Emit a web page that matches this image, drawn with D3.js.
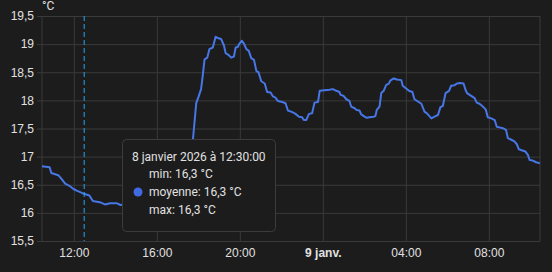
<!DOCTYPE html>
<html>
<head>
<meta charset="utf-8">
<script src="https://cdn.jsdelivr.net/npm/d3@7"></script>
<style>
  html, body { margin: 0; padding: 0; background: #1c1c1c; }
  svg { display: block; font-family: Roboto, "Noto Sans", sans-serif; }
</style>
</head>
<body>
<svg id="chart" width="552" height="272"></svg>
<script>
// temperature readings, 8 -> 9 Jan 2026
const times = [
  "2026-01-08 10:28","2026-01-08 10:50","2026-01-08 10:55","2026-01-08 11:15","2026-01-08 11:25",
  "2026-01-08 11:35","2026-01-08 11:50","2026-01-08 12:00","2026-01-08 12:10","2026-01-08 12:25",
  "2026-01-08 12:45","2026-01-08 12:55","2026-01-08 13:15","2026-01-08 13:30","2026-01-08 13:45",
  "2026-01-08 14:05","2026-01-08 14:15","2026-01-08 14:30","2026-01-08 15:00","2026-01-08 15:30",
  "2026-01-08 16:00","2026-01-08 16:30","2026-01-08 17:00","2026-01-08 17:20","2026-01-08 17:30",
  "2026-01-08 17:40","2026-01-08 17:45","2026-01-08 17:54","2026-01-08 18:01","2026-01-08 18:08",
  "2026-01-08 18:13","2026-01-08 18:18","2026-01-08 18:26","2026-01-08 18:32","2026-01-08 18:42",
  "2026-01-08 18:50","2026-01-08 18:56","2026-01-08 19:06","2026-01-08 19:14","2026-01-08 19:19",
  "2026-01-08 19:27","2026-01-08 19:35","2026-01-08 19:43","2026-01-08 19:48","2026-01-08 19:54",
  "2026-01-08 19:59","2026-01-08 20:06","2026-01-08 20:12","2026-01-08 20:19","2026-01-08 20:26",
  "2026-01-08 20:33","2026-01-08 20:41","2026-01-08 20:48","2026-01-08 20:54","2026-01-08 21:02",
  "2026-01-08 21:12","2026-01-08 21:19","2026-01-08 21:29","2026-01-08 21:36","2026-01-08 21:43",
  "2026-01-08 21:50","2026-01-08 22:03","2026-01-08 22:12","2026-01-08 22:19","2026-01-08 22:32",
  "2026-01-08 22:41","2026-01-08 22:51","2026-01-08 23:00","2026-01-08 23:05","2026-01-08 23:12",
  "2026-01-08 23:20","2026-01-08 23:29","2026-01-08 23:36","2026-01-08 23:46","2026-01-08 23:51",
  "2026-01-09 00:05","2026-01-09 00:19","2026-01-09 00:29","2026-01-09 00:39","2026-01-09 00:48",
  "2026-01-09 00:51","2026-01-09 01:00","2026-01-09 01:08","2026-01-09 01:17","2026-01-09 01:22",
  "2026-01-09 01:32","2026-01-09 01:38","2026-01-09 01:46","2026-01-09 01:51","2026-01-09 02:01",
  "2026-01-09 02:07","2026-01-09 02:15","2026-01-09 02:27","2026-01-09 02:32","2026-01-09 02:36",
  "2026-01-09 02:44","2026-01-09 02:49","2026-01-09 02:56","2026-01-09 03:03","2026-01-09 03:11",
  "2026-01-09 03:15","2026-01-09 03:25","2026-01-09 03:34","2026-01-09 03:47","2026-01-09 03:51",
  "2026-01-09 04:01","2026-01-09 04:09","2026-01-09 04:19","2026-01-09 04:25","2026-01-09 04:35",
  "2026-01-09 04:45","2026-01-09 04:54","2026-01-09 05:01","2026-01-09 05:14","2026-01-09 05:23",
  "2026-01-09 05:33","2026-01-09 05:40","2026-01-09 05:47","2026-01-09 05:55","2026-01-09 06:05",
  "2026-01-09 06:11","2026-01-09 06:21","2026-01-09 06:28","2026-01-09 06:37","2026-01-09 06:47",
  "2026-01-09 06:53","2026-01-09 06:57","2026-01-09 07:09","2026-01-09 07:19","2026-01-09 07:25",
  "2026-01-09 07:33","2026-01-09 07:41","2026-01-09 07:51","2026-01-09 07:57","2026-01-09 08:07",
  "2026-01-09 08:17","2026-01-09 08:23","2026-01-09 08:31","2026-01-09 08:43","2026-01-09 08:50",
  "2026-01-09 08:55","2026-01-09 09:05","2026-01-09 09:14","2026-01-09 09:21","2026-01-09 09:27",
  "2026-01-09 09:37","2026-01-09 09:46","2026-01-09 09:53","2026-01-09 09:58","2026-01-09 10:07",
  "2026-01-09 10:17","2026-01-09 10:28"
];
const temps = [
  16.83,16.81,16.71,16.67,16.60, 16.52,16.47,16.42,16.39,16.35,
  16.31,16.21,16.19,16.15,16.17, 16.17,16.14,16.15,16.12,16.12,
  16.10,16.10,16.12,16.20,16.50, 17.00,17.34,17.95,18.07,18.20,
  18.45,18.73,18.76,18.91,18.94, 19.13,19.11,19.09,18.98,18.84,
  18.81,18.76,18.78,18.94,18.95, 19.01,19.06,19.01,18.91,18.88,
  18.75,18.72,18.52,18.50,18.34, 18.30,18.15,18.14,18.07,18.05,
  17.99,17.97,17.95,17.82,17.79, 17.76,17.71,17.70,17.65,17.65,
  17.76,17.77,17.96,17.97,18.17, 18.18,18.19,18.20,18.17,18.15,
  18.10,18.08,18.02,17.99,17.89, 17.86,17.83,17.82,17.75,17.71,
  17.69,17.70,17.71,17.72,17.83, 17.89,18.13,18.17,18.27,18.30,
  18.35,18.39,18.37,18.36,18.26, 18.21,18.17,18.15,18.02,17.98,
  17.94,17.80,17.77,17.68,17.71, 17.74,17.88,17.90,18.13,18.17,
  18.26,18.27,18.30,18.31,18.30, 18.18,18.13,18.08,18.04,17.96,
  17.94,17.90,17.84,17.70,17.68, 17.65,17.53,17.52,17.50,17.47,
  17.33,17.30,17.27,17.22,17.13, 17.11,17.09,17.03,16.94,16.93,
  16.90,16.88
];
const timeRange = ["2026-01-08 10:28", "2026-01-09 10:28"];
const yTicks = [15.5, 16, 16.5, 17, 17.5, 18, 18.5, 19, 19.5];
const unit = "°C";
const cursorTime = "2026-01-08 12:30";
const tipTitle = "8 janvier 2026 à 12:30:00";
const tipRows = ["min: 16,3 °C", "moyenne: 16,3 °C", "max: 16,3 °C"];

const parse = d3.timeParse("%Y-%m-%d %H:%M");
const data = times.map((t, i) => ({ t: parse(t), v: temps[i] }));

const margin = { top: 16, right: 12, bottom: 31, left: 42 };
const svg = d3.select("#chart");
const W = 552 - margin.left - margin.right;
const H = 272 - margin.top - margin.bottom;
const g = svg.append("g").attr("transform", `translate(${margin.left},${margin.top})`);

const x = d3.scaleTime().domain(timeRange.map(parse)).range([0, W]);
const y = d3.scaleLinear().domain([15.5, 19.5]).range([H, 0]);
const fr = d3.formatLocale({ decimal: ",", thousands: " ", grouping: [3], currency: ["", "€"] });
const fmtY = fr.format("~g");

const gridCol = "#3a3a3a";
const textCol = "#e1e1e1";

// y grid + labels
const yAx = g.append("g").call(d3.axisLeft(y).tickValues(yTicks).tickSize(-W - 5).tickFormat(fmtY))
  .attr("transform", "translate(-5,0)");
yAx.select(".domain").remove();
yAx.selectAll("line").attr("stroke", gridCol).attr("x1", 0).attr("x2", W + 5);
yAx.selectAll("text").attr("fill", textCol).attr("font-size", 12).attr("x", -3);

// x grid + labels
const xTicks = x.ticks(d3.timeHour.every(4));
const xAx = g.append("g").attr("transform", `translate(0,${H})`)
  .call(d3.axisBottom(x).tickValues(xTicks).tickSize(-H)
    .tickFormat(d => d.getHours() === 0 ? d3.timeFormat("%-d")(d) + " janv." : d3.timeFormat("%H:%M")(d)));
xAx.select(".domain").remove();
xAx.selectAll("line").attr("stroke", gridCol);
xAx.selectAll("text").attr("fill", textCol).attr("font-size", 12).attr("dy", "1.05em")
  .attr("font-weight", d => d.getHours() === 0 ? "bold" : null);

// frame edges
[0, W].forEach(px => g.append("line").attr("x1", px).attr("x2", px).attr("y1", 0).attr("y2", H).attr("stroke", gridCol));

g.append("text").attr("x", 0).attr("y", -6).attr("fill", textCol).attr("font-size", 12).text(unit);

// series
g.append("path").datum(data)
  .attr("fill", "none")
  .attr("stroke", "#4776e6")
  .attr("stroke-width", 2)
  .attr("stroke-linejoin", "round")
  .attr("d", d3.line().x(d => x(d.t)).y(d => y(d.v)));

// cursor
const cx = x(parse(cursorTime));
g.append("line").attr("x1", cx).attr("x2", cx).attr("y1", 0).attr("y2", H)
  .attr("stroke", "#1fa8f0").attr("stroke-width", 1).attr("stroke-dasharray", "5,3");

// tooltip
const tip = svg.append("g").attr("transform", "translate(122,139)");
tip.append("rect").attr("x", 0.5).attr("y", 0.5).attr("width", 153).attr("height", 92).attr("rx", 4)
  .attr("fill", "#1c1c1c").attr("stroke", "#3c3c3c");
tip.append("text").attr("x", 10).attr("y", 22).attr("fill", textCol).attr("font-size", 12).text(tipTitle);
tipRows.forEach((r, i) => {
  tip.append("text").attr("x", 27).attr("y", 39 + i * 18).attr("fill", textCol).attr("font-size", 12).text(r);
});
tip.append("circle").attr("cx", 16).attr("cy", 53).attr("r", 4.5).attr("fill", "#4169e1");
</script>
</body>
</html>
